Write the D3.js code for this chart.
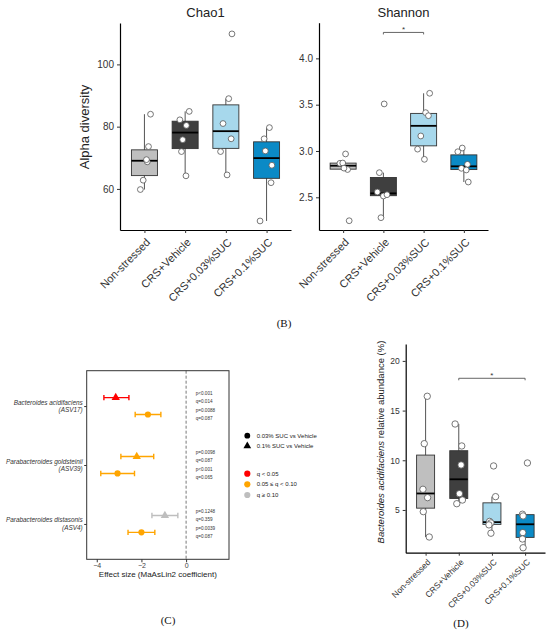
<!DOCTYPE html>
<html>
<head>
<meta charset="utf-8">
<script src="https://cdn.jsdelivr.net/npm/d3@7"></script>
<style>
  body { margin: 0; background: #fff; }
  svg { display: block; font-family: "Liberation Sans", Arial, sans-serif; }
</style>
</head>
<body>
<div id="chart"></div>
<script>
// ---- data ----
const groups = ["Non-stressed", "CRS+Vehicle", "CRS+0.03%SUC", "CRS+0.1%SUC"];

const chao1Values = [
  [84, 73.6, 68.7, 69.4, 62.8, 59.8],
  [84.9, 82.2, 80.4, 75.8, 72, 64.2],
  [109.8, 89, 81, 76.1, 72, 64.5],
  [79.7, 76.1, 72.2, 67.6, 62, 49.7]
];
const shannonValues = [
  [2.968, 2.867, 2.87, 2.8, 2.815, 2.247],
  [3.508, 2.766, 2.557, 2.514, 2.528, 2.28],
  [3.623, 3.414, 3.381, 3.162, 3.02, 2.91],
  [3.032, 2.992, 2.856, 2.813, 2.795, 2.665]
];
const abundanceValues = [
  [16.44, 11.67, 7.08, 6.24, 4.83, 2.28],
  [13.65, 11.44, 9.53, 6.64, 5.63, 6.0],
  [9.43, 6.34, 3.85, 3.7, 3.5, 2.66],
  [9.73, 4.57, 4.4, 2.72, 2.08, 1.2]
];

const chao1Ticks = [60, 80, 100];
const shannonTicks = [2.5, 3.0, 3.5, 4.0];
const abundanceTicks = [5, 10, 15, 20];

// significance brackets: [group from, group to, value, label]
const shannonSignif = [1, 2, 4.28, "*"];
const abundanceSignif = [1, 3, 18.25, "*"];

// panel C (MaAsLin2)
const taxa = ["Bacteroides acidifaciens", "Parabacteroides goldsteinii", "Parabacteroides distasonis"];
const taxaIds = ["(ASV17)", "(ASV39)", "(ASV4)"];
const comparisons = ["0.03% SUC vs Vehicle", "0.1% SUC vs Vehicle"];
const coef01 = [-3.15, -2.21, -0.95];
const coef01Lo = [-3.68, -2.92, -1.53];
const coef01Hi = [-2.56, -1.45, -0.37];
const coef003 = [-1.71, -3.07, -2.0];
const coef003Lo = [-2.28, -3.82, -2.6];
const coef003Hi = [-1.13, -2.31, -1.4];
const p01 = ["p<0.001", "p=0.0098", "p=0.1248"];
const q01 = [0.014, 0.087, 0.359];
const p003 = ["p=0.0088", "p<0.001", "p=0.0039"];
const q003 = [0.087, 0.065, 0.087];
const qClasses = ["q < 0.05", "0.05 \u2264 q < 0.10", "q \u2265 0.10"];
const effectTicks = [-4, -2, 0];

// ---- style / layout ----
const groupFill = ["#bfbfbf", "#3f3f3f", "#a7d8ec", "#0b8ac6"];
const qColors = ["#ff0000", "#ffa500", "#bebebe"];
// horizontal jitter of the dots, as a share of the band step
const chao1Jitter = [
  [0.15, 0.10, 0.07, 0.05, -0.03, -0.10],
  [0.10, -0.13, 0.03, -0.06, -0.09, 0.02],
  [0.15, 0.07, -0.07, 0.13, -0.13, 0.03],
  [0.07, -0.06, -0.03, 0.13, 0.11, -0.16]
];
const shannonJitter = [
  [0.06, -0.08, -0.01, 0.11, 0.02, 0.15],
  [0.02, -0.10, -0.15, 0.0, 0.09, -0.06],
  [0.15, 0.05, 0.12, -0.07, -0.15, 0.02],
  [-0.04, -0.15, 0.09, -0.06, 0.06, 0.11]
];
const abundanceJitter = [
  [0.05, -0.04, -0.08, 0.06, -0.07, 0.11],
  [-0.11, 0.09, 0.07, 0.02, -0.06, 0.11],
  [0.05, 0.11, -0.07, -0.03, -0.09, -0.03],
  [0.07, -0.08, -0.06, -0.07, -0.08, -0.06]
];

const width = 550;
const height = 637;

const svg = d3.select("#chart")
  .append("svg")
  .attr("width", width)
  .attr("height", height);

function boxStats(values) {
  const s = values.slice().sort(d3.ascending);
  const q1 = d3.quantileSorted(s, 0.25);
  const med = d3.quantileSorted(s, 0.5);
  const q3 = d3.quantileSorted(s, 0.75);
  const iqr = q3 - q1;
  const lo = d3.min(s.filter((d) => d >= q1 - 1.5 * iqr));
  const hi = d3.max(s.filter((d) => d <= q3 + 1.5 * iqr));
  return { q1, med, q3, lo, hi };
}

function boxPanel(p) {
  const x = d3.scalePoint().domain(groups).range([p.left, p.right]).padding(0.6);
  const y = d3.scaleLinear().domain(p.domain).range([p.bottom, p.top]);
  const g = svg.append("g");
  const step = x.step();

  const stats = p.values.map(boxStats);

  // whiskers
  g.selectAll(".whisker")
    .data(stats)
    .join("line")
    .attr("x1", (d, i) => x(groups[i]))
    .attr("x2", (d, i) => x(groups[i]))
    .attr("y1", (d) => y(d.lo))
    .attr("y2", (d) => y(d.hi))
    .attr("stroke", "#555")
    .attr("stroke-width", 1);

  // boxes
  g.selectAll(".box")
    .data(stats)
    .join("rect")
    .attr("x", (d, i) => x(groups[i]) - p.boxWidth / 2)
    .attr("width", p.boxWidth)
    .attr("y", (d) => y(d.q3))
    .attr("height", (d) => y(d.q1) - y(d.q3))
    .attr("fill", (d, i) => groupFill[i])
    .attr("stroke", "#333")
    .attr("stroke-width", 0.9);

  g.selectAll(".median")
    .data(stats)
    .join("line")
    .attr("x1", (d, i) => x(groups[i]) - p.boxWidth / 2)
    .attr("x2", (d, i) => x(groups[i]) + p.boxWidth / 2)
    .attr("y1", (d) => y(d.med))
    .attr("y2", (d) => y(d.med))
    .attr("stroke", "#000")
    .attr("stroke-width", 1.8);

  // dots
  const dots = p.values.flatMap((v, i) =>
    v.map((val, j) => ({ group: groups[i], val, jit: p.jitter[i][j] }))
  );
  g.selectAll(".dot")
    .data(dots)
    .join("circle")
    .attr("cx", (d) => x(d.group) + d.jit * step)
    .attr("cy", (d) => y(d.val))
    .attr("r", p.pointR)
    .attr("fill", "#fff")
    .attr("stroke", "#555")
    .attr("stroke-width", 0.8);

  // axes
  const yAxis = d3.axisLeft(y).tickValues(p.ticks).tickSize(3).tickSizeOuter(0).tickPadding(3);
  if (p.format) yAxis.tickFormat(d3.format(p.format));
  const ya = g.append("g").attr("transform", `translate(${p.left},0)`).call(yAxis);
  ya.select(".domain").attr("stroke", "#000").attr("stroke-width", 1.2);
  ya.selectAll(".tick line").attr("stroke", "#333");
  ya.selectAll("text").attr("fill", "#333").style("font-size", p.tickFont + "px");

  const xAxis = d3.axisBottom(x).tickSize(3).tickSizeOuter(0);
  const xa = g.append("g").attr("transform", `translate(0,${p.bottom})`).call(xAxis);
  xa.select(".domain").attr("stroke", "#000").attr("stroke-width", 1.2);
  xa.selectAll(".tick line").attr("stroke", "#333");
  xa.selectAll("text")
    .attr("x", 0)
    .attr("y", 0)
    .attr("dy", 0)
    .attr("text-anchor", "end")
    .attr("transform", `translate(${p.labelDx},${p.labelDy}) rotate(-45)`)
    .attr("fill", "#333")
    .style("font-size", p.labelFont + "px");
  ya.attr("font-family", null);
  xa.attr("font-family", null);

  if (p.title) {
    g.append("text")
      .attr("x", (p.left + p.right) / 2)
      .attr("y", p.top - 6)
      .attr("text-anchor", "middle")
      .style("font-size", "13px")
      .attr("fill", "#222")
      .text(p.title);
  }

  if (p.signif) {
    const [a, b, v, lab] = p.signif;
    const yy = y(v);
    g.append("path")
      .attr("d", `M${x(groups[a])},${yy + 2}V${yy}H${x(groups[b])}V${yy + 2}`)
      .attr("fill", "none")
      .attr("stroke", "#555")
      .attr("stroke-width", 0.9);
    g.append("text")
      .attr("x", (x(groups[a]) + x(groups[b])) / 2)
      .attr("y", yy - 0.5)
      .attr("text-anchor", "middle")
      .style("font-size", "8px")
      .attr("fill", "#333")
      .text(lab);
  }
  return { x, y, g };
}

// ---- panel B ----
const chao = boxPanel({
  values: chao1Values, jitter: chao1Jitter,
  left: 120, right: 291, top: 23, bottom: 230,
  domain: [46.8, 113.3], ticks: chao1Ticks,
  boxWidth: 26, pointR: 2.9, tickFont: 10, labelFont: 11,
  labelDx: 6, labelDy: 13, title: "Chao1"
});
chao.g.append("text")
  .attr("transform", "translate(89,127) rotate(-90)")
  .attr("text-anchor", "middle")
  .style("font-size", "13px")
  .attr("fill", "#222")
  .text("Alpha diversity");

boxPanel({
  values: shannonValues, jitter: shannonJitter,
  left: 319, right: 488, top: 22.7, bottom: 230,
  domain: [2.147, 4.385], ticks: shannonTicks, format: ".1f",
  boxWidth: 26, pointR: 2.9, tickFont: 10, labelFont: 11,
  labelDx: 6, labelDy: 13, title: "Shannon", signif: shannonSignif
});

// ---- panel D ----
const abund = boxPanel({
  values: abundanceValues, jitter: abundanceJitter,
  left: 405.7, right: 545, top: 344, bottom: 552.7,
  domain: [0.7, 21.7], ticks: abundanceTicks,
  boxWidth: 18, pointR: 3.2, tickFont: 8.5, labelFont: 8.5,
  labelDx: 5, labelDy: 10, signif: abundanceSignif
});
const yLab = abund.g.append("text")
  .attr("transform", "translate(384,442) rotate(-90)")
  .attr("text-anchor", "middle")
  .style("font-size", "9.5px")
  .attr("fill", "#222");
yLab.append("tspan").style("font-style", "italic").text("Bacteroides acidifaciens");
yLab.append("tspan").text(" relative abundance (%)");

// ---- panel C ----
const cLeft = 86.7, cRight = 229, cTop = 370.7, cBottom = 559.3;
const xC = d3.scaleLinear().domain([-4.45, 1.92]).range([cLeft, cRight]);
const yC = d3.scalePoint().domain(taxa).range([cTop, cBottom]).padding(0.6);
const dodge = 0.143 * yC.step();
const gC = svg.append("g");

gC.append("line")
  .attr("x1", xC(0)).attr("x2", xC(0))
  .attr("y1", cTop).attr("y2", cBottom)
  .attr("stroke", "#555")
  .attr("stroke-width", 0.8)
  .attr("stroke-dasharray", "3,2");

function qColor(q) {
  return q < 0.05 ? qColors[0] : q < 0.1 ? qColors[1] : qColors[2];
}

const effects = taxa.flatMap((t, i) => [
  { taxon: t, shape: "triangle", est: coef01[i], lo: coef01Lo[i], hi: coef01Hi[i], q: q01[i], off: -dodge },
  { taxon: t, shape: "circle", est: coef003[i], lo: coef003Lo[i], hi: coef003Hi[i], q: q003[i], off: dodge }
]);

const eb = gC.selectAll(".eb").data(effects).join("g")
  .attr("transform", (d) => `translate(0,${yC(d.taxon) + d.off})`)
  .attr("stroke", (d) => qColor(d.q))
  .attr("fill", (d) => qColor(d.q));
eb.append("path")
  .attr("d", (d) => `M${xC(d.lo)},-2.7V2.7M${xC(d.lo)},0H${xC(d.hi)}M${xC(d.hi)},-2.7V2.7`)
  .attr("fill", "none")
  .attr("stroke-width", 1.4);
eb.filter((d) => d.shape === "circle").append("circle")
  .attr("cx", (d) => xC(d.est)).attr("r", 3.1).attr("stroke", "none");
eb.filter((d) => d.shape === "triangle").append("path")
  .attr("d", d3.symbol(d3.symbolTriangle, 30))
  .attr("transform", (d) => `translate(${xC(d.est)},0)`)
  .attr("stroke", "none");

// p / q annotations
const notes = taxa.flatMap((t, i) => [
  { taxon: t, k: 0, s: p01[i] },
  { taxon: t, k: 1, s: "q=" + d3.format(".3f")(q01[i]) },
  { taxon: t, k: 2, s: p003[i] },
  { taxon: t, k: 3, s: "q=" + d3.format(".3f")(q003[i]) }
]);
gC.selectAll(".note").data(notes).join("text")
  .attr("x", xC(0) + 9.7)
  .attr("y", (d) => yC(d.taxon) - 12.4 + d.k * 8.2 + 1.6)
  .style("font-size", "4.6px")
  .attr("fill", "#333")
  .text((d) => d.s);

gC.append("rect")
  .attr("x", cLeft).attr("y", cTop)
  .attr("width", cRight - cLeft).attr("height", cBottom - cTop)
  .attr("fill", "none")
  .attr("stroke", "#333")
  .attr("stroke-width", 1);

const xaC = gC.append("g").attr("transform", `translate(0,${cBottom})`)
  .call(d3.axisBottom(xC).tickValues(effectTicks).tickFormat(d3.format("d"))
    .tickSize(3).tickPadding(1).tickSizeOuter(0));
xaC.select(".domain").remove();
xaC.attr("font-family", null);
xaC.selectAll(".tick line").attr("stroke", "#333");
xaC.selectAll("text").attr("fill", "#444").style("font-size", "7px");

const yaC = gC.append("g").attr("transform", `translate(${cLeft},0)`)
  .call(d3.axisLeft(yC).tickSize(2.5).tickSizeOuter(0).tickFormat(""));
yaC.select(".domain").remove();
yaC.selectAll(".tick line").attr("stroke", "#333");

const taxLab = gC.selectAll(".taxlab").data(taxa).join("text")
  .attr("text-anchor", "end")
  .style("font-size", "6.4px")
  .style("font-style", "italic")
  .attr("fill", "#333");
taxLab.append("tspan")
  .attr("x", cLeft - 4)
  .attr("y", (d) => yC(d) - 3.7 + 2.2)
  .text((d) => d);
taxLab.append("tspan")
  .attr("x", cLeft - 4)
  .attr("y", (d) => yC(d) + 4 + 2.2)
  .text((d, i) => taxaIds[i]);

gC.append("text")
  .attr("x", (cLeft + cRight) / 2)
  .attr("y", 577)
  .attr("text-anchor", "middle")
  .style("font-size", "8px")
  .attr("fill", "#222")
  .text("Effect size (MaAsLin2 coefficient)");

// legend
const legC = gC.append("g").attr("transform", "translate(247.3,0)");
const shapeLeg = legC.selectAll(".sl").data(comparisons).join("g")
  .attr("transform", (d, i) => `translate(0,${435.7 + i * 10.3})`);
shapeLeg.filter((d, i) => i === 0).append("circle").attr("r", 2.9).attr("fill", "#000");
shapeLeg.filter((d, i) => i === 1).append("path")
  .attr("d", d3.symbol(d3.symbolTriangle, 26)).attr("fill", "#000");
shapeLeg.append("text").attr("x", 9.4).attr("y", 2.1)
  .style("font-size", "6px").attr("fill", "#222").text((d) => d);

const qLeg = legC.selectAll(".ql").data(qClasses).join("g")
  .attr("transform", (d, i) => `translate(0,${473.7 + i * 10.65})`);
qLeg.append("circle").attr("r", 3.1).attr("fill", (d, i) => qColors[i]);
qLeg.append("text").attr("x", 9.4).attr("y", 2.1)
  .style("font-size", "6px").attr("fill", "#222").text((d) => d);

// panel letters
const letters = [["(B)", 284, 327], ["(C)", 168, 624], ["(D)", 461, 627]];
svg.selectAll(".letter").data(letters).join("text")
  .attr("x", (d) => d[1])
  .attr("y", (d) => d[2])
  .attr("text-anchor", "middle")
  .style("font-family", "'Liberation Serif', 'Times New Roman', serif")
  .style("font-size", "11px")
  .attr("fill", "#111")
  .text((d) => d[0]);
</script>
</body>
</html>
